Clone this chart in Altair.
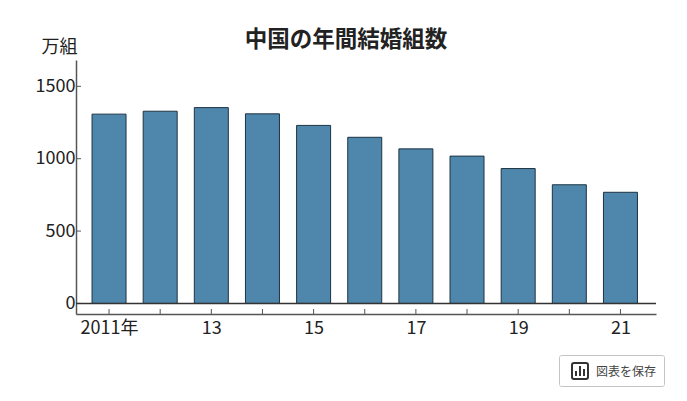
import altair as alt
import pandas as pd

years = list(range(2011, 2022))
values = [1308, 1328, 1353, 1310, 1230, 1148, 1068, 1018, 932, 820, 768]
y_ticks = [0, 500, 1000, 1500]
FONT = "Noto Sans CJK JP, sans-serif"
AXC = "#555555"

df = pd.DataFrame({"year": years, "v": values})
xs = alt.Scale(domain=[2010.354, 2021.695], nice=False, zero=False, padding=0)
ys = alt.Scale(domain=[-73, 1682], nice=False, zero=False)

bars = alt.Chart(df).mark_bar(size=34, fill="#4f86ac", stroke="#1e3443", strokeWidth=1).encode(
    x=alt.X("year:Q", scale=xs, axis=alt.Axis(
        title=None, values=years, grid=False, tickSize=0, labelPadding=5,
        labelExpr="datum.value == 2011 ? '2011年' : (datum.value % 2 == 1 ? format(datum.value % 100, '02d') : '')",
        labelFont=FONT, labelFontSize=18, labelColor="#222222", labelFlush=False, labelOverlap=False,
        domainColor=AXC, domainWidth=1.5)),
    y=alt.Y("v:Q", scale=ys, axis=alt.Axis(
        title="万組", titleAngle=0, titleX=-17, titleY=-13, titleAlign="center", titleBaseline="middle",
        titleFont=FONT, titleFontSize=18, titleFontWeight="normal", titleColor="#222222",
        values=y_ticks, grid=False, tickSize=0, labelPadding=1, format="d",
        labelFont=FONT, labelFontSize=18, labelColor="#222222",
        domainColor=AXC, domainWidth=1.5)),
    y2=alt.Y2(datum=0),
)

xtick_rules = alt.Chart(df).mark_rule(color=AXC, strokeWidth=1).encode(
    x=alt.X("year:Q", scale=xs), y=alt.value(249), y2=alt.value(254))

ytick_df = pd.DataFrame({"t": y_ticks})
ytick_rules = alt.Chart(ytick_df).mark_rule(color=AXC, strokeWidth=1).encode(
    y=alt.Y("t:Q", scale=ys), x=alt.value(0), x2=alt.value(5))

baseline = alt.Chart(pd.DataFrame({"t": [0]})).mark_rule(color="#333333", strokeWidth=1.5).encode(
    y=alt.Y("t:Q", scale=ys), x=alt.value(0), x2=alt.value(580))

one = alt.Data(values=[{"a": 1}])
# "save chart" button drawn below the plot
btn = alt.Chart(one).mark_rect(fill="white", stroke="#c4c4c4", strokeWidth=1, cornerRadius=2).encode(
    x=alt.value(483.5), x2=alt.value(588.5), y=alt.value(295.5), y2=alt.value(326.5))
icon = alt.Chart(one).mark_rect(fill="white", stroke="#333333", strokeWidth=2, cornerRadius=2).encode(
    x=alt.value(496), x2=alt.value(512), y=alt.value(303), y2=alt.value(319))
icon_bars = [
    alt.Chart(one).mark_rule(color="#333333", strokeWidth=2).encode(
        x=alt.value(px), y=alt.value(top), y2=alt.value(316))
    for px, top in [(500, 311), (504, 306), (508, 309)]
]
btn_text = alt.Chart(one).mark_text(text="図表を保存", font="Noto Sans CJK JP", fontSize=12,
                                    color="#444444", align="center", baseline="middle").encode(
    x=alt.value(550), y=alt.value(311.5))

chart = alt.layer(bars, xtick_rules, ytick_rules, baseline, btn, icon, *icon_bars, btn_text).properties(
    width=580, height=254,
    padding={"left": 68, "top": 52, "right": 23, "bottom": 79},
    autosize=alt.AutoSizeParams(type="none"),
    title=alt.TitleParams("中国の年間結婚組数", font="Noto Sans CJK JP", fontSize=22.5, fontWeight="bold",
                          color="#222222", anchor="middle", dx=-20, offset=-13),
    background="white",
).configure_view(stroke=None)

chart.save("out.html", embed_options={"renderer": "svg", "actions": False})
